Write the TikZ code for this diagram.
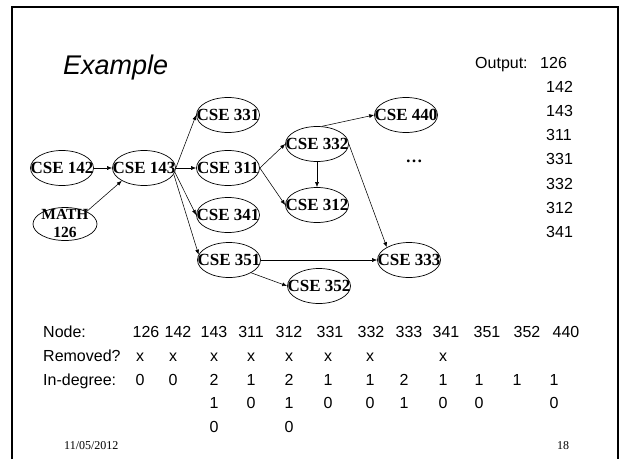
\documentclass[tikz,border=0pt]{standalone}
\usepackage{fontspec}
\setmainfont{Liberation Serif}
\setsansfont{Liberation Sans}
\usetikzlibrary{arrows.meta,shapes.geometric}
\newcommand{\crs}[1]{\makebox[0pt]{\raisebox{-5.6pt}[0pt][0pt]{#1}}}

\begin{document}
\begin{tikzpicture}[x=1pt,y=-1pt,
  course/.style={ellipse,draw,line width=0.7pt,inner sep=0pt,minimum width=63pt,minimum height=35pt,font=\fontsize{17}{18}\selectfont\bfseries},
  pre/.style={-{Latex[length=5pt,width=4pt]},line width=0.55pt},
  txt/.style={anchor=base west,inner sep=0pt,font=\fontsize{16}{18}\selectfont\sffamily},
  col/.style={anchor=base,inner sep=0pt,font=\fontsize{16}{18}\selectfont\sffamily}]
\useasboundingbox (0,0) rectangle (623,459);
\draw[line width=1.8pt] (12,459) -- (12,7) -- (618,7) -- (618,459);
\node[anchor=base west,inner sep=0pt,font=\fontsize{27}{30}\selectfont\sffamily\itshape] (title) at (63,74) {Example};
\node[txt] (out) at (475,68.5) {Output:};
\node[txt] (o126) at (540,68.5) {126};
\foreach \n [count=\i] in {142,143,311,331,332,312,341}
  \node[txt] (o\n) at (546,{68.5+24.1*\i}) {\n};

\node[course] (c142) at (62,168) {\crs{CSE 142}};
\node[course] (c143) at (144,168) {\crs{CSE 143}};
\node[course,minimum width=64pt,minimum height=33pt,font=\fontsize{15.5}{18}\selectfont\bfseries] (m126) at (65,224) {\makebox[0pt]{\raisebox{4.7pt}[0pt][0pt]{\begin{tabular}[t]{@{}c@{}}MATH\\126\end{tabular}}}};
\node[course] (c331) at (228,115) {\crs{CSE 331}};
\node[course] (c311) at (228,168) {\crs{CSE 311}};
\node[course] (c341) at (228,215) {\crs{CSE 341}};
\node[course] (c351) at (229,260) {\crs{CSE 351}};
\node[course] (c332) at (317,144) {\crs{CSE 332}};
\node[course] (c312) at (317,205) {\crs{CSE 312}};
\node[course] (c352) at (319,286) {\crs{CSE 352}};
\node[course] (c440) at (406,115) {\crs{CSE 440}};
\node[course] (c333) at (409,260) {\crs{CSE 333}};
\node[anchor=base,inner sep=0pt,font=\fontsize{17}{18}\selectfont\bfseries] (dots) at (414,162) {\ldots};

\draw[pre] (c142) -- (c143);
\draw[pre] (m126.30) -- (c143.210);
\draw[pre] (c143.east) -- (c331.west);
\draw[pre] (c143.east) -- (c311.west);
\draw[pre] (c143.-8) -- (c341.west);
\draw[pre] (c143.-12) -- (c351.170);
\draw[pre] (c311.east) -- (c332.west);
\draw[pre] (c311.east) -- (c312.west);
\draw[pre] (c332.75) -- (c440.west);
\draw[pre] (c332) -- (c312);
\draw[pre] (c332.east) -- (c333.150);
\draw[pre] (c351.east) -- (c333.west);
\draw[pre] (c351.-30) -- (c352.west);

\node[txt] (lnode) at (43,337.5) {Node:};
\node[txt] (lrem) at (43,361.3) {Removed?};
\node[txt] (ldeg) at (43,385) {In-degree:};
\foreach \x/\v [count=\i] in {146/126,178/142,214/143,251/311,289/312,330/331,371/332,409/333,446/341,487/351,527/352,566/440}
  \node[col] (h\i) at (\x,337.5) {\v};
\foreach \x/\v [count=\i] in {140/x,173/x,214/x,251/x,289/x,328/x,370/x,443/x}
  \node[col] (r\i) at (\x,361.3) {\v};
\foreach \x/\v [count=\i] in {140/0,173/0,214/2,251/1,289/2,328/1,370/1,404/2,443/1,479/1,517/1,554/1}
  \node[col] (d\i) at (\x,385) {\v};
\foreach \x/\v [count=\i] in {214/1,251/0,289/1,328/0,370/0,404/1,443/0,479/0,554/0}
  \node[col] (e\i) at (\x,408.8) {\v};
\foreach \x/\v [count=\i] in {214/0,289/0}
  \node[col] (f\i) at (\x,432.5) {\v};

\node[anchor=base west,inner sep=0pt,font=\fontsize{12}{14}\selectfont] (date) at (64,449) {11/05/2012};
\node[anchor=base,inner sep=0pt,font=\fontsize{12}{14}\selectfont] (page) at (563,449) {18};
\end{tikzpicture}
\end{document}
